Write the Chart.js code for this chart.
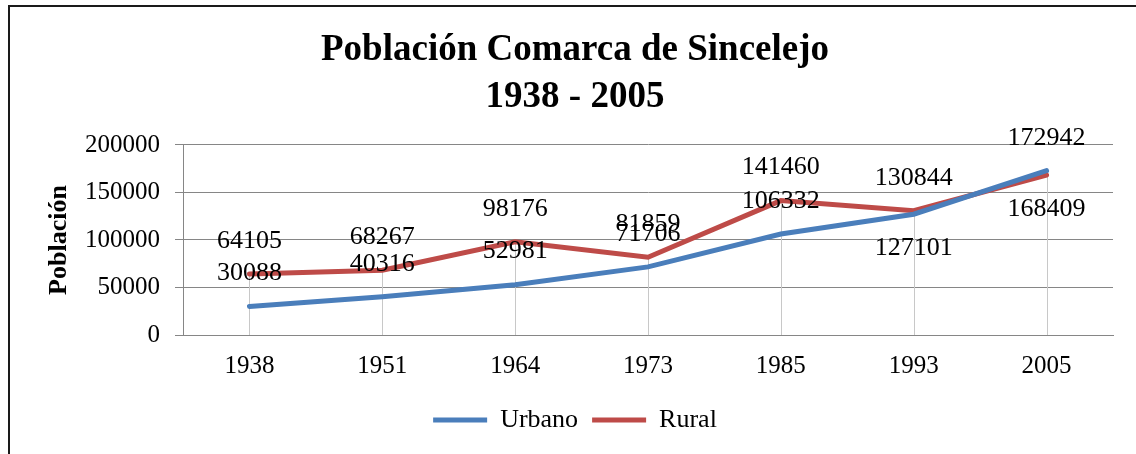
<!DOCTYPE html>
<html>
<head>
<meta charset="utf-8">
<script src="https://cdn.jsdelivr.net/npm/chart.js@4"></script>
<style>
  html, body { margin: 0; padding: 0; background: #fff; overflow: hidden; }
  #frame { position: absolute; left: 8px; top: 5px; width: 1400px; height: 800px; border: 2px solid #1a1a1a; }
  #wrap { position: absolute; left: 0; top: 0; width: 1136px; height: 454px; }
</style>
</head>
<body>
<div id="frame"></div>
<div id="wrap"><canvas id="popChart"></canvas></div>
<script>
const years = ['1938', '1951', '1964', '1973', '1985', '1993', '2005'];
const urbano = [30088, 40316, 52981, 71706, 106332, 127101, 172942];
const rural = [64105, 68267, 98176, 81859, 141460, 130844, 168409];

const serif = 'Liberation Serif';

// labels that sit under the point instead of over it
const labelsBelow = { 0: [5], 1: [6] };

const dropLines = {
  id: 'dropLines',
  beforeDatasetsDraw(chart) {
    const { ctx, scales } = chart;
    const y0 = scales.y.getPixelForValue(0);
    ctx.save();
    ctx.strokeStyle = '#c8c8c8';
    ctx.lineWidth = 1;
    years.forEach((yr, i) => {
      const x = Math.round(scales.x.getPixelForValue(i)) + 0.5;
      const top = scales.y.getPixelForValue(Math.max(urbano[i], rural[i]));
      ctx.beginPath();
      ctx.moveTo(x, top);
      ctx.lineTo(x, y0);
      ctx.stroke();
    });
    ctx.restore();
  }
};

const valueLabels = {
  id: 'valueLabels',
  afterDatasetsDraw(chart) {
    const { ctx } = chart;
    ctx.save();
    ctx.font = '26px "' + serif + '"';
    ctx.fillStyle = '#000';
    ctx.textAlign = 'center';
    ctx.textBaseline = 'middle';
    chart.data.datasets.forEach((ds, di) => {
      const meta = chart.getDatasetMeta(di);
      meta.data.forEach((pt, i) => {
        const below = (labelsBelow[di] || []).includes(i);
        ctx.fillText(String(ds.data[i]), pt.x, pt.y + (below ? 34 : -33));
      });
    });
    ctx.restore();
  }
};

const ctx = document.getElementById('popChart').getContext('2d');
const chart = new Chart(ctx, {
  type: 'line',
  data: {
    labels: years,
    datasets: [{
      label: 'Urbano',
      data: urbano,
      borderColor: '#4a7ebb',
      backgroundColor: '#4a7ebb',
      borderWidth: 5,
      borderCapStyle: 'round',
      pointRadius: 0,
      tension: 0
    }, {
      label: 'Rural',
      data: rural,
      borderColor: '#be4b48',
      backgroundColor: '#be4b48',
      borderWidth: 5,
      borderCapStyle: 'round',
      pointRadius: 0,
      tension: 0
    }]
  },
  plugins: [dropLines, valueLabels],
  options: {
    responsive: true,
    maintainAspectRatio: false,
    animation: false,
    layout: { padding: { left: 37, right: 23, top: 0, bottom: 11 } },
    plugins: {
      title: {
        display: true,
        text: ['Población Comarca de Sincelejo', '1938 - 2005'],
        color: '#000',
        font: { family: serif, size: 37, weight: 'bold', lineHeight: 1.27 },
        padding: { top: 27, bottom: 24 }
      },
      legend: {
        position: 'bottom',
        labels: {
          color: '#000',
          font: { family: serif, size: 26 },
          usePointStyle: true,
          pointStyle: 'line',
          pointStyleWidth: 54,
          padding: 14
        }
      },
      tooltip: { enabled: false }
    },
    scales: {
      x: {
        offset: true,
        grid: { display: false, drawTicks: false },
        border: { color: '#868686' },
        ticks: { color: '#000', font: { family: serif, size: 25 }, padding: 16 },
        afterFit(scale) { scale.height = 58; }
      },
      y: {
        min: 0,
        max: 200000,
        ticks: {
          stepSize: 50000,
          color: '#000',
          font: { family: serif, size: 25 },
          padding: 15,
          callback: v => String(v)
        },
        grid: { color: '#868686', tickLength: 8 },
        border: { color: '#868686' },
        title: {
          display: true,
          text: 'Población',
          color: '#000',
          font: { family: serif, size: 26, weight: 'bold' },
          padding: { top: 7, bottom: 0 }
        },
        afterFit(scale) { scale.width = 146; }
      }
    }
  }
});
</script>
</body>
</html>
